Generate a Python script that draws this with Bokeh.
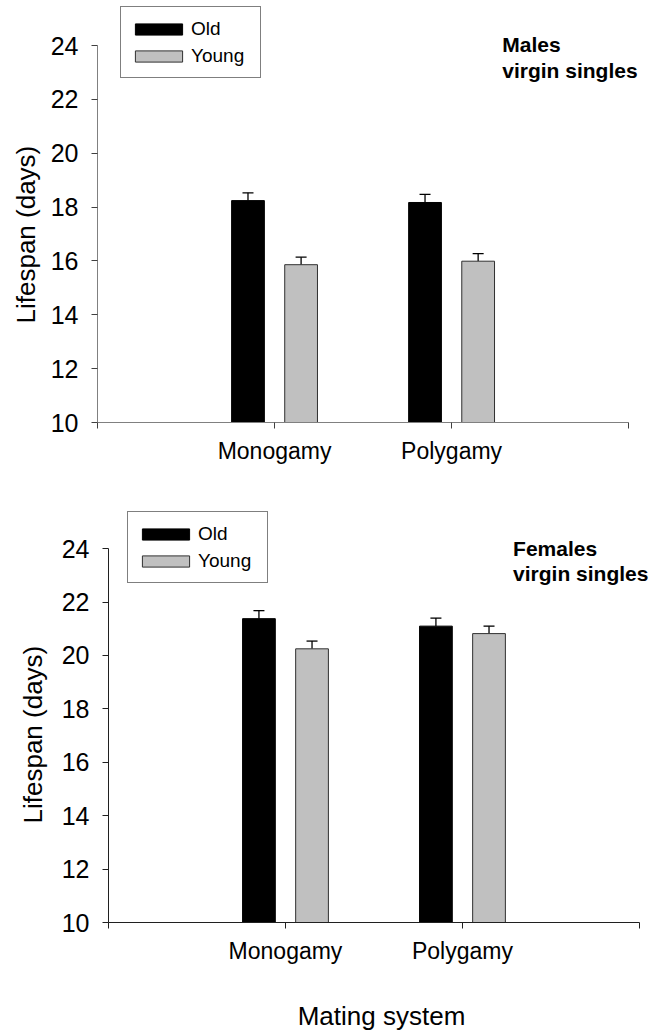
from bokeh.plotting import figure
from bokeh.models import (Range1d, FixedTicker, Legend, LegendItem, Label,
                          Whisker, TeeHead, ColumnDataSource, Title)
from bokeh.layouts import column
from bokeh.embed import file_html
from bokeh.resources import INLINE

# ---------------- data ----------------
categories = ["Monogamy", "Polygamy"]
groups = ["Old", "Young"]

male_old = [18.24, 18.17]
male_old_se = [0.29, 0.30]
male_young = [15.86, 15.99]
male_young_se = [0.28, 0.28]

female_old = [21.38, 21.10]
female_old_se = [0.30, 0.30]
female_young = [20.25, 20.82]
female_young_se = [0.29, 0.28]

y_ticks = [10, 12, 14, 16, 18, 20, 22, 24]
y_label = "Lifespan (days)"
x_label = "Mating system"
male_title = ["Males", "virgin singles"]
female_title = ["Females", "virgin singles"]

FONT = "Liberation Sans"
OLD_COLOR = "#000000"
YOUNG_COLOR = "#c0c0c0"


def make_panel(old, old_se, young, young_se, title_lines, height, border_left,
               border_right, border_top, border_bottom, x_end, y_end,
               axis_color, tick_color, legend_loc, ytitle_standoff,
               show_xlabel):
    n = len(categories)
    p = figure(width=665, height=height, x_range=Range1d(0, x_end),
               y_range=Range1d(y_ticks[0], y_end),
               output_backend="svg", toolbar_location=None, title=None,
               min_border_left=border_left, min_border_right=border_right,
               min_border_top=border_top, min_border_bottom=border_bottom)
    p.frame_align = False
    p.outline_line_color = None
    p.xgrid.grid_line_color = None
    p.ygrid.grid_line_color = None
    p.background_fill_color = "white"
    p.border_fill_color = "white"

    offset = 0.15
    bar_w = 0.185
    pos = [i + 1 for i in range(n)]
    src_old = ColumnDataSource(dict(
        x=[c - offset for c in pos], top=old,
        upper=[v + e for v, e in zip(old, old_se)]))
    src_young = ColumnDataSource(dict(
        x=[c + offset for c in pos], top=young,
        upper=[v + e for v, e in zip(young, young_se)]))

    r_old = p.vbar(x="x", top="top", bottom=y_ticks[0], width=bar_w,
                   source=src_old, fill_color=OLD_COLOR, line_color="#000000",
                   line_width=1)
    r_young = p.vbar(x="x", top="top", bottom=y_ticks[0], width=bar_w,
                     source=src_young, fill_color=YOUNG_COLOR,
                     line_color="#303030", line_width=1)

    for src in (src_old, src_young):
        w = Whisker(source=src, base="x", lower="top", upper="upper",
                    dimension="height", line_color="black", line_width=1.3,
                    lower_head=None,
                    upper_head=TeeHead(size=11, line_color="black",
                                       line_width=1.3))
        p.add_layout(w)

    # axes
    p.xaxis.ticker = FixedTicker(ticks=[0] + pos + [n + 1])
    overrides = {0: "", n + 1: ""}
    overrides.update({c: lab for c, lab in zip(pos, categories)})
    p.xaxis.major_label_overrides = overrides
    p.xaxis.bounds = (0, n + 1)
    p.yaxis.ticker = FixedTicker(ticks=y_ticks)
    p.yaxis.bounds = (y_ticks[0], y_ticks[-1])
    for ax in (p.xaxis[0], p.yaxis[0]):
        ax.axis_line_color = axis_color
        ax.axis_line_width = 1
        ax.major_tick_line_color = tick_color
        ax.major_tick_out = 6
        ax.major_tick_in = 0
        ax.minor_tick_line_color = None
        ax.major_label_text_font = FONT
        ax.major_label_text_color = "black"
        ax.axis_label_text_font = FONT
        ax.axis_label_text_font_style = "normal"
        ax.axis_label_text_color = "black"
    p.yaxis.major_label_text_font_size = "25px"
    p.yaxis.major_label_standoff = 13
    p.xaxis.major_label_text_font_size = "23px"
    p.xaxis.major_label_standoff = 9
    if show_xlabel:
        p.xaxis.axis_label = x_label
        p.xaxis.axis_label_text_font_size = "26px"
        p.xaxis.axis_label_standoff = 34

    # y-axis title (left panel, starting at the axis bottom)
    p.add_layout(Title(text=y_label, align="left", offset=99,
                       standoff=ytitle_standoff, text_font=FONT,
                       text_font_size="26px", text_font_style="normal",
                       text_color="black", vertical_align="bottom"), "left")

    legend = Legend(items=[LegendItem(label=groups[0], renderers=[r_old]),
                           LegendItem(label=groups[1], renderers=[r_young])],
                    location=legend_loc, orientation="vertical",
                    border_line_color="black", border_line_width=1,
                    background_fill_color="white", background_fill_alpha=1,
                    label_text_font=FONT, label_text_font_size="19px",
                    label_text_color="black",
                    glyph_width=59, glyph_height=14, label_height=27,
                    label_width=61, label_standoff=3, padding=8, spacing=0,
                    margin=0)
    p.add_layout(legend, "center")

    # panel title (two lines)
    for txt, yv in zip(title_lines, (24.02, 23.06)):
        p.add_layout(Label(x=2.286, y=yv, text=txt, text_font=FONT,
                           text_font_style="bold", text_font_size="21px",
                           text_color="black", text_align="left",
                           text_baseline="alphabetic"))
    return p


p1 = make_panel(male_old, male_old_se, male_young, male_young_se, male_title,
                height=495, border_left=97, border_right=5, border_top=3,
                border_bottom=73, x_end=3.18, y_end=25.56,
                axis_color="#808080", tick_color="#404040",
                legend_loc=(23, 344), ytitle_standoff=14, show_xlabel=False)
p2 = make_panel(female_old, female_old_se, female_young, female_young_se,
                female_title, height=538, border_left=108, border_right=11,
                border_top=3, border_bottom=109, x_end=3.085, y_end=25.88,
                axis_color="#202020", tick_color="#202020",
                legend_loc=(19, 339), ytitle_standoff=22, show_xlabel=True)

layout = column(p1, p2, spacing=0)
open("out.html", "w").write(file_html(layout, INLINE))
